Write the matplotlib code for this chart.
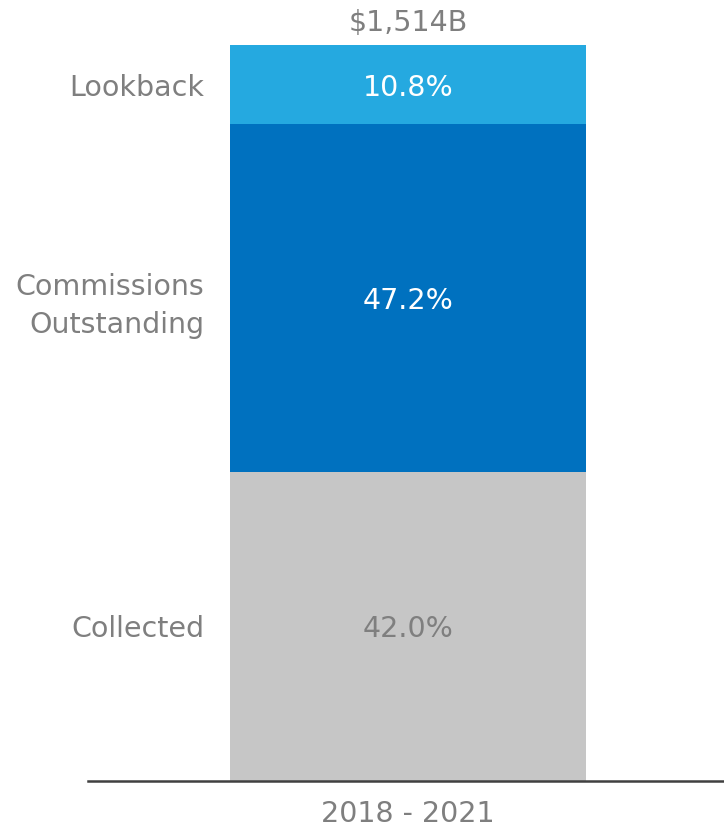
import matplotlib
matplotlib.use("Agg")
import matplotlib.pyplot as plt

# Stacked share of total, bottom to top
segments = ["Collected", "Commissions\nOutstanding", "Lookback"]
shares = [42.0, 47.2, 10.8]
colors = ["#C6C6C6", "#0071BF", "#25A9E0"]
value_colors = ["#7F7F7F", "white", "white"]
period = "2018 - 2021"
total_label = "$1,514B"

gray = "#7F7F7F"
plt.rcParams["font.family"] = "DejaVu Sans"

fig = plt.figure(figsize=(7.24, 8.27), dpi=100)
ax = fig.add_axes([88 / 724, 46 / 827, 636 / 724, 736 / 827])

bar_w = 1.0
px = 356.0  # bar width in pixels
ax.set_xlim(-0.5 - 142 / px, 0.5 + 138 / px)
ax.set_ylim(0, sum(shares))

bottom = 0
for name, val, col, tcol in zip(segments, shares, colors, value_colors):
    ax.bar(0, val, bottom=bottom, width=bar_w, color=col, edgecolor="none")
    mid = bottom + val / 2
    ax.text(0, mid, f"{val:.1f}%", ha="center", va="center_baseline",
            fontsize=20.5, color=tcol)
    ax.text(-0.5 - 26 / px, mid, name, ha="right", va="center_baseline",
            fontsize=20.5, color=gray, linespacing=1.45)
    bottom += val

ax.annotate(total_label, (0, bottom), xytext=(0, 6), textcoords="offset points",
            ha="center", va="bottom", fontsize=20.5, color=gray)

for s in ["top", "right", "left"]:
    ax.spines[s].set_visible(False)
ax.spines["bottom"].set_color("#404040")
ax.spines["bottom"].set_linewidth(1.8)
ax.set_yticks([])
ax.set_xticks([0])
ax.set_xticklabels([period])
ax.tick_params(axis="x", length=0, pad=14, labelsize=20.5, labelcolor=gray)

fig.savefig("out.png", dpi=100)
